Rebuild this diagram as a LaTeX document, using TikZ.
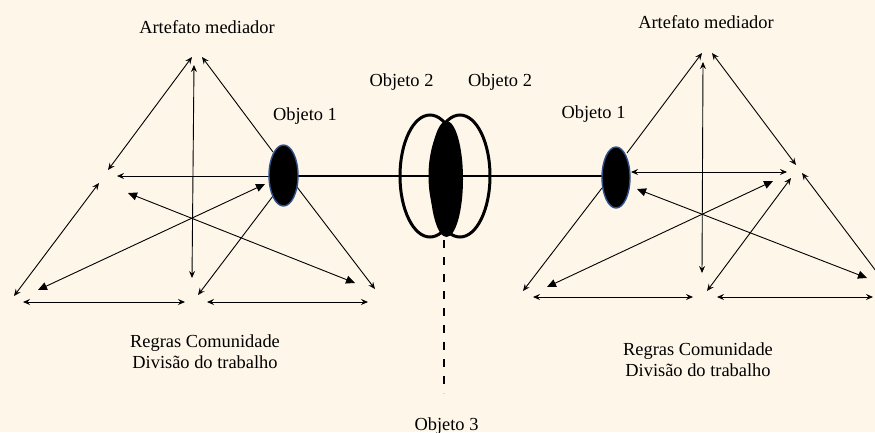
\documentclass[tikz,border=0pt]{standalone}
\usepackage{fontspec}
\setmainfont{Liberation Serif}
\usetikzlibrary{arrows.meta,shapes.geometric}
\definecolor{paper}{RGB}{253,246,233}
\definecolor{rimblue}{RGB}{47,82,143}
\tikzset{
  bt/.tip={Stealth[length=7pt,width=6pt,inset=2.5pt]},
  ft/.tip={Triangle[length=9pt,width=8pt]},
  link/.style={line width=0.9pt, black},
  lbl/.style={font=\fontsize{18.4}{22}\selectfont, anchor=base, inner sep=0pt},
  subject/.style={ellipse, draw=rimblue, fill=black, line width=1.4pt, inner sep=0pt},
  ring/.style={ellipse, draw=black, line width=3pt, inner sep=0pt, minimum width=60pt, minimum height=122pt},
}
\begin{document}
\begin{tikzpicture}[x=1pt,y=-1pt]
\useasboundingbox (0,0) rectangle (875,432);
\fill[paper] (0,0) rectangle (875,432);

% ---------- labels ----------
\node[lbl] (artL) at (207,33) {Artefato mediador};
\node[lbl] (artR) at (706,28) {Artefato mediador};
\node[lbl] (ob1L) at (305,120) {Objeto 1};
\node[lbl] (ob1R) at (593.5,118) {Objeto 1};
\node[lbl] (ob2L) at (401.5,86) {Objeto 2};
\node[lbl] (ob2R) at (500,86) {Objeto 2};
\node[lbl] (ob3)  at (446.5,430) {Objeto 3};
\node[lbl] (regL) at (205,347) {Regras Comunidade};
\node[lbl] (divL) at (205,368) {Divisão do trabalho};
\node[lbl] (regR) at (698,355) {Regras Comunidade};
\node[lbl] (divR) at (698,376) {Divisão do trabalho};

% ---------- shared object in the middle ----------
\coordinate (midW) at (298,176);
\coordinate (midE) at (602,176);
\draw[line width=2pt] (midW) -- (midE);
\node[ring] (ringL) at (430,176) {};
\node[ring] (ringR) at (460,176) {};
\node[ellipse, fill=black, inner sep=0pt, minimum width=33pt, minimum height=116pt] (core) at (446.5,179) {};
\coordinate (dashTop) at (444,240);
\coordinate (dashEnd) at (444,393);
\draw[line width=2.5pt, dash pattern=on 8pt off 9pt] (dashTop) -- (dashEnd);

% ---------- left activity system ----------
\coordinate (LAl) at (192,57);
\coordinate (LAr) at (202,57);
\coordinate (LAv) at (194,65);
\coordinate (LMa) at (108,170);
\coordinate (LMh) at (117,176);
\coordinate (LMb) at (99,183);
\coordinate (LMf) at (128,193);
\coordinate (LBLt) at (14,296);
\coordinate (LBLf) at (38,290);
\coordinate (LBLh) at (23,302);
\coordinate (LBMv) at (192,278);
\coordinate (LBMo) at (198,295);
\coordinate (LBMh1) at (185,302);
\coordinate (LBMh2) at (207,302);
\coordinate (LBRf) at (355,283);
\coordinate (LBRt) at (375,289);
\coordinate (LBRh) at (368,302);
\coordinate (LOtl) at (273,152);
\coordinate (LOw) at (270,176);
\coordinate (LOf) at (265,184);
\coordinate (LObl) at (273,196);
\coordinate (LObr) at (297,187);

\draw[link, bt-bt] (LAl) -- (LMa);
\draw[link, bt-bt] (LMb) -- (LBLt);
\draw[link, bt-bt] (LAv) -- (LBMv);
\draw[link, -bt] (LOtl) -- (LAr);
\draw[link, -bt] (LOw) -- (LMh);
\draw[link, ft-ft] (LMf) -- (LBRf);
\draw[link, ft-ft] (LBLf) -- (LOf);
\draw[link, -bt] (LObl) -- (LBMo);
\draw[link, -bt] (LObr) -- (LBRt);
\draw[link, bt-bt] (LBLh) -- (LBMh1);
\draw[link, bt-bt] (LBMh2) -- (LBRh);
\node[subject, minimum width=29pt, minimum height=61pt] (subjL) at (283.5,175.5) {};

% ---------- right activity system ----------
\coordinate (RAl) at (702,53);
\coordinate (RAr) at (712,53);
\coordinate (RAv) at (703,62);
\coordinate (RMa) at (796,165);
\coordinate (RMh) at (787,172);
\coordinate (RMr) at (802,173);
\coordinate (RMb) at (791,178);
\coordinate (RMf) at (773,181);
\coordinate (RBLt) at (523,291);
\coordinate (RBLf) at (547,287);
\coordinate (RBLh) at (533,297);
\coordinate (RBMv) at (702,273);
\coordinate (RBMm) at (707,291);
\coordinate (RBMh1) at (693,297);
\coordinate (RBMh2) at (717,297);
\coordinate (RBRf) at (867,278);
\coordinate (RBRe) at (876,271);
\coordinate (RBRh) at (873,297);
\coordinate (ROtr) at (627,153);
\coordinate (ROe) at (631,172);
\coordinate (ROf) at (637,189);
\coordinate (RObl) at (602,188);

\draw[link, bt-bt] (RAr) -- (RMa);
\draw[link, bt-] (RMr) -- (RBRe);
\draw[link, bt-bt] (RAv) -- (RBMv);
\draw[link, -bt] (ROtr) -- (RAl);
\draw[link, -bt] (RObl) -- (RBLt);
\draw[link, bt-bt] (ROe) -- (RMh);
\draw[link, ft-ft] (ROf) -- (RBRf);
\draw[link, ft-ft] (RMf) -- (RBLf);
\draw[link, bt-bt] (RBMm) -- (RMb);
\draw[link, bt-bt] (RBLh) -- (RBMh1);
\draw[link, bt-bt] (RBMh2) -- (RBRh);
\node[subject, minimum width=28pt, minimum height=61pt] (subjR) at (616,177.5) {};
\end{tikzpicture}
\end{document}
